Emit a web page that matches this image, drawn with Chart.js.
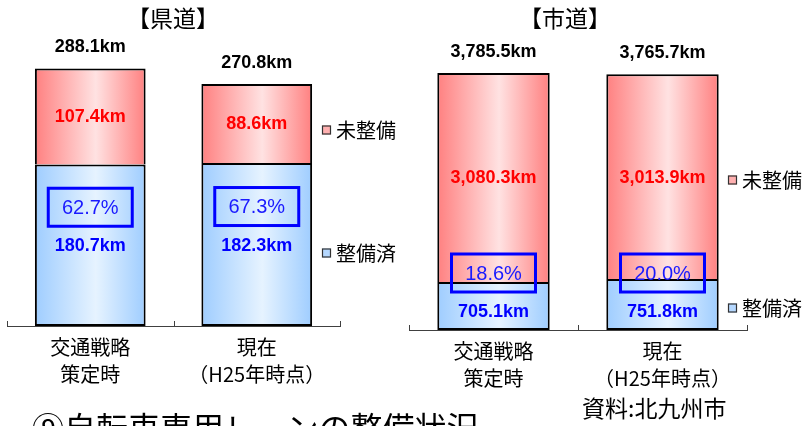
<!DOCTYPE html>
<html>
<head>
<meta charset="utf-8">
<script src="https://cdn.jsdelivr.net/npm/chart.js@4.4.1/dist/chart.umd.min.js"></script>
<style>
  html, body { margin: 0; padding: 0; background: #fff; }
  body { width: 805px; height: 426px; overflow: hidden; position: relative; }
  #wrapL { position: absolute; left: 0; top: 0; width: 400px; height: 426px; }
  #wrapR { position: absolute; left: 400px; top: 0; width: 405px; height: 426px; }
  #heading {
    position: absolute; left: 32px; top: 410px; white-space: nowrap;
    font-family: "Noto Sans CJK JP", sans-serif; font-size: 32px; line-height: 32px; color: #000;
  }
</style>
</head>
<body>
<div id="wrapL"><canvas id="prefChart" width="400" height="426"></canvas></div>
<div id="wrapR"><canvas id="cityChart" width="405" height="426"></canvas></div>
<div id="heading">⑨自転車専用レーンの整備状況</div>
<script>
// categories (x axis, two lines each)
const categories = [["交通戦略", "策定時"], ["現在", "（H25年時点）"]];
const seriesNames = ["整備済", "未整備"];

// 県道 (km)
const prefDone = [180.7, 182.3];
const prefTodo = [107.4, 88.6];
const prefTotal = [288.1, 270.8];
const prefRate = [62.7, 67.3];

// 市道 (km)
const cityDone = [705.1, 751.8];
const cityTodo = [3080.3, 3013.9];
const cityTotal = [3785.5, 3765.7];
const cityRate = [18.6, 20.0];

const CJK = "'Noto Sans CJK JP', 'Noto Sans CJK SC', sans-serif";
const NUM = "'Liberation Sans', Arial, sans-serif";
const BAR_PCT = 0.665;

function fmtKm(v) {
    return v.toLocaleString("en-US", { minimumFractionDigits: 1, maximumFractionDigits: 1 }) + "km";
}

// horizontal gradient per bar, dark edges / light middle
function barFill(edge, mid) {
    return (ctx) => {
        const chart = ctx.chart;
        if (!chart.chartArea) return mid;
        const x = chart.scales.x;
        const c = x.getPixelForValue(ctx.dataIndex);
        const half = (x.width / chart.data.labels.length) * BAR_PCT / 2;
        const g = chart.ctx.createLinearGradient(c - half, 0, c + half, 0);
        g.addColorStop(0, edge);
        g.addColorStop(0.55, mid);
        g.addColorStop(1, edge);
        return g;
    };
}

const decorPlugin = {
    id: "decor",
    afterDatasetsDraw(chart, args, opts) {
        const ctx = chart.ctx;
        const area = chart.chartArea;
        const done = chart.getDatasetMeta(0).data;
        const todo = chart.getDatasetMeta(1).data;
        ctx.save();

        // title
        ctx.fillStyle = "#000";
        ctx.font = "23px " + CJK;
        ctx.textAlign = "center";
        ctx.textBaseline = "middle";
        ctx.fillText(opts.title, opts.titleX, 18);

        // small tick marks on the axis
        const xs = chart.scales.x;
        ctx.strokeStyle = "#404040";
        ctx.lineWidth = 1;
        for (let i = 0; i <= chart.data.labels.length; i++) {
            const px = Math.round(xs.getPixelForValue(i - 0.5)) + 0.5;
            ctx.beginPath();
            ctx.moveTo(px, area.bottom);
            ctx.lineTo(px, area.bottom - 5);
            ctx.stroke();
        }

        todo.forEach((bar, i) => {
            const cx = bar.x;
            // total above bar
            ctx.fillStyle = "#000";
            ctx.font = "bold 18px " + NUM;
            ctx.fillText(fmtKm(opts.totals[i]), cx, bar.y - 21);
            // not yet built
            ctx.fillStyle = "#ff0000";
            ctx.fillText(fmtKm(chart.data.datasets[1].data[i]), cx, (bar.y + bar.base) / 2 + 1);
            // built
            const d = done[i];
            const segH = d.base - d.y;
            const ky = segH < 70 ? d.base - 18 : (d.y + d.base) / 2 + 1;
            ctx.fillStyle = "#0000ff";
            ctx.fillText(fmtKm(chart.data.datasets[0].data[i]), cx, ky);
            // rate box
            const by = ky - 39;
            ctx.strokeStyle = "#0000ff";
            ctx.lineWidth = 3;
            ctx.strokeRect(cx - 42, by - 19, 84, 38);
            ctx.fillStyle = "#1a1aff";
            ctx.font = "20px " + NUM;
            ctx.fillText(opts.rates[i].toFixed(1) + "%", cx, by + 1);
        });

        // legend
        ctx.textAlign = "left";
        const legendItems = [
            { label: chart.data.datasets[1].label, fill: "#ffb0b0", y: opts.legendY[0] },
            { label: chart.data.datasets[0].label, fill: "#b5d8ff", y: opts.legendY[1] }
        ];
        legendItems.forEach((it) => {
            ctx.fillStyle = it.fill;
            ctx.fillRect(opts.legendX, it.y - 4.5, 9, 9);
            ctx.strokeStyle = "#333";
            ctx.lineWidth = 1.2;
            ctx.strokeRect(opts.legendX + 0.5, it.y - 4, 8, 8);
            ctx.fillStyle = "#000";
            ctx.font = "20px " + CJK;
            ctx.fillText(it.label, opts.legendX + 14, it.y);
        });

        if (opts.source) {
            ctx.font = "23px " + CJK;
            ctx.fillText(opts.source, opts.sourceX, 408);
        }
        ctx.restore();
    }
};

function makeChart(id, done, todo, totals, rates, yMax, axisH, pad, extra) {
    const ctx = document.getElementById(id).getContext("2d");
    return new Chart(ctx, {
        type: "bar",
        data: {
            labels: categories,
            datasets: [
                {
                    label: seriesNames[0],
                    data: done,
                    backgroundColor: barFill("#9fcdff", "#e6f3ff"),
                    borderColor: "#000",
                    borderWidth: 2,
                    borderSkipped: false
                },
                {
                    label: seriesNames[1],
                    data: todo,
                    backgroundColor: barFill("#ff8080", "#ffe2e2"),
                    borderColor: "#000",
                    borderWidth: 2,
                    borderSkipped: "start"
                }
            ]
        },
        options: {
            responsive: false,
            animation: false,
            layout: { padding: pad },
            datasets: { bar: { categoryPercentage: 1, barPercentage: BAR_PCT } },
            plugins: {
                legend: { display: false },
                tooltip: { enabled: false },
                decor: Object.assign({ totals: totals, rates: rates }, extra)
            },
            scales: {
                x: {
                    stacked: true,
                    grid: { display: false },
                    border: { display: true, color: "#404040", width: 1 },
                    ticks: {
                        color: "#000",
                        padding: 0,
                        maxRotation: 0,
                        font: { family: CJK, size: 20, lineHeight: 1.35 }
                    },
                    afterFit: (scale) => { scale.height = axisH; }
                },
                y: { stacked: true, display: false, min: 0, max: yMax }
            }
        },
        plugins: [decorPlugin]
    });
}

makeChart("prefChart", prefDone, prefTodo, prefTotal, prefRate, 320, 100,
    { left: 7, right: 60, top: 40, bottom: 0 },
    { title: "【県道】", titleX: 173, legendX: 322, legendY: [130, 253] });

makeChart("cityChart", cityDone, cityTodo, cityTotal, cityRate, 4270, 96,
    { left: 9, right: 58, top: 40, bottom: 0 },
    { title: "【市道】", titleX: 165, legendX: 328, legendY: [180, 308],
      source: "資料:北九州市", sourceX: 182 });
</script>
</body>
</html>
